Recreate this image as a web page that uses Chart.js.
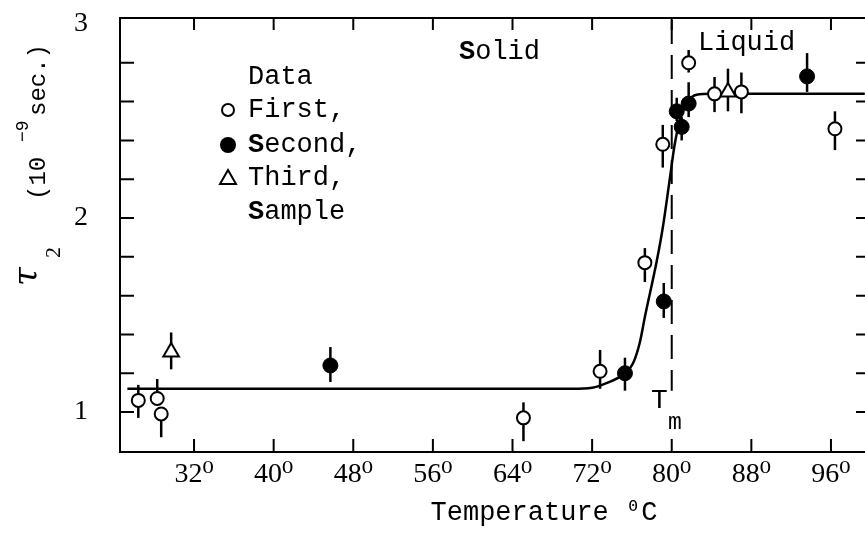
<!DOCTYPE html>
<html><head><meta charset="utf-8">
<script src="https://cdn.jsdelivr.net/npm/chart.js@4"></script>
<style>html,body{margin:0;padding:0;background:#fff;}canvas{display:block;}</style>
</head><body>
<canvas id="c" width="865" height="533"></canvas>
<script>
// ---- axis ticks ----
const xTickValues = [32, 40, 48, 56, 64, 72, 80, 88, 96];
const xTickLabels = ['32⁰', '40⁰', '48⁰', '56⁰', '64⁰', '72⁰', '80⁰', '88⁰', '96⁰'];
const yTickValues = [1, 1.2, 1.4, 1.6, 1.8, 2, 2.2, 2.4, 2.6, 2.8, 3];
const yTickLabels = ['1', '', '', '', '', '2', '', '', '', '', '3'];

// ---- data: First sample (open circles) ----
const firstT  = [26.4, 28.3, 28.7, 65.1, 72.8, 77.3, 79.1, 81.7, 84.3, 87.0, 96.4];
const firstV  = [1.06, 1.07, 0.99, 0.97, 1.21, 1.77, 2.38, 2.80, 2.64, 2.65, 2.46];
const firstUp = [0.08, 0.10, 0.03, 0.08, 0.11, 0.075, 0.10, 0.066, 0.087, 0.10, 0.09];
const firstDn = [0.09, 0.03, 0.12, 0.12, 0.09, 0.10, 0.12, 0.05, 0.094, 0.11, 0.11];

// ---- data: Second sample (filled circles) ----
const secondT  = [45.7, 75.3, 79.2, 80.5, 81.0, 81.7, 93.6];
const secondV  = [1.24, 1.20, 1.57, 2.55, 2.47, 2.59, 2.73];
const secondUp = [0.095, 0.08, 0.095, 0.07, 0.05, 0.11, 0.12];
const secondDn = [0.085, 0.09, 0.085, 0.05, 0.07, 0.07, 0.08];

// ---- data: Third sample (triangles) ----
const thirdT  = [29.7, 85.65];
const thirdV  = [1.31, 2.65];
const thirdUp = [0.10, 0.12];
const thirdDn = [0.09, 0.10];

// ---- fitted curve ----
const curveT = [25.3, 50, 70, 72, 73.5, 75.3, 76.1, 76.8, 77.3, 78.5, 79.1, 79.8, 80.3, 80.9, 81.6, 82.5, 84, 99.4];
const curveV = [1.12, 1.12, 1.12, 1.125, 1.15, 1.20, 1.25, 1.36, 1.49, 1.78, 1.95, 2.20, 2.38, 2.52, 2.60, 2.635, 2.64, 2.64];

const meltT = 80;

const pts = (T, V) => T.map((t, i) => ({x: t, y: V[i]}));
const series = [
  {T: firstT, V: firstV, up: firstUp, dn: firstDn},
  {T: secondT, V: secondV, up: secondUp, dn: secondDn},
  {T: thirdT, V: thirdV, up: thirdUp, dn: thirdDn}
];

const MONO = '"Liberation Mono","DejaVu Sans Mono",monospace';
const SERIF = '"Liberation Serif","DejaVu Serif",serif';

function drawMixed(ctx, x, y, parts) {
  let cx = x;
  parts.forEach(p => {
    ctx.font = p.font;
    ctx.fillText(p.t, cx, y);
    cx += ctx.measureText(p.t).width;
  });
}

const decor = {
  id: 'decor',
  beforeDatasetsDraw(chart) {
    const {ctx, chartArea: a, scales: {x, y}} = chart;
    ctx.save();
    ctx.strokeStyle = '#000';
    ctx.lineWidth = 2;
    ctx.beginPath();
    ctx.moveTo(a.left, a.top); ctx.lineTo(a.right, a.top);
    x.ticks.forEach(t => {
      const p = x.getPixelForValue(t.value);
      ctx.moveTo(p, a.top); ctx.lineTo(p, a.top + 12);
      ctx.moveTo(p, a.bottom); ctx.lineTo(p, a.bottom - 13);
    });
    y.ticks.forEach(t => {
      if (t.value > 2.95) return;
      const p = y.getPixelForValue(t.value);
      ctx.moveTo(a.left, p); ctx.lineTo(a.left + 14, p);
      ctx.moveTo(a.right - 9, p); ctx.lineTo(a.right, p);
    });
    ctx.stroke();
    // Tm dashed line
    const xm = x.getPixelForValue(meltT);
    ctx.setLineDash([24, 11]);
    ctx.beginPath();
    ctx.moveTo(xm, a.top + 2); ctx.lineTo(xm, y.getPixelForValue(1.11));
    ctx.stroke();
    ctx.setLineDash([]);
    // error bars
    ctx.lineWidth = 2.5;
    series.forEach(s => {
      s.T.forEach((t, i) => {
        const px = x.getPixelForValue(t);
        ctx.beginPath();
        ctx.moveTo(px, y.getPixelForValue(s.V[i] + s.up[i]));
        ctx.lineTo(px, y.getPixelForValue(s.V[i] - s.dn[i]));
        ctx.stroke();
      });
    });
    ctx.restore();
  },
  afterDraw(chart) {
    const {ctx} = chart;
    ctx.save();
    ctx.fillStyle = '#000';
    ctx.strokeStyle = '#000';
    ctx.textBaseline = 'middle';
    ctx.textAlign = 'left';
    // region labels
    drawMixed(ctx, 459, 52, [{t: 'S', font: 'bold 27px ' + MONO}, {t: 'olid', font: '27px ' + MONO}]);
    ctx.font = '27px ' + MONO;
    ctx.fillText('Liquid', 698, 43);
    // Tm
    ctx.font = '28px ' + MONO;
    ctx.fillText('T', 651, 401);
    ctx.font = '23px ' + MONO;
    ctx.fillText('m', 668, 423);
    // legend
    ctx.font = '27px ' + MONO;
    ctx.fillText('Data', 248, 77);
    ctx.fillText('First,', 248, 110);
    drawMixed(ctx, 248, 145, [{t: 'S', font: 'bold 27px ' + MONO}, {t: 'econd,', font: '27px ' + MONO}]);
    ctx.font = '27px ' + MONO;
    ctx.fillText('Third,', 248, 178);
    drawMixed(ctx, 248, 212, [{t: 'S', font: 'bold 27px ' + MONO}, {t: 'ample', font: '27px ' + MONO}]);
    ctx.lineWidth = 2;
    ctx.beginPath(); ctx.arc(228, 110, 6, 0, Math.PI * 2); ctx.stroke();
    ctx.beginPath(); ctx.arc(228, 145, 8, 0, Math.PI * 2); ctx.fill();
    ctx.beginPath(); ctx.moveTo(228, 170); ctx.lineTo(236, 184); ctx.lineTo(220, 184); ctx.closePath(); ctx.stroke();
    // x title
    ctx.textAlign = 'center';
    ctx.font = '27px ' + MONO;
    ctx.fillText('Temperature ⁰C', 544, 513);
    // y title (rotated)
    ctx.translate(45, 288);
    ctx.rotate(-Math.PI / 2);
    ctx.textAlign = 'left';
    ctx.textBaseline = 'alphabetic';
    ctx.font = 'italic 34px "DejaVu Serif",serif';
    ctx.fillText('τ', 2, -8);
    ctx.font = '22px ' + SERIF;
    ctx.fillText('2', 30, 15);
    ctx.font = '24px ' + MONO;
    ctx.fillText('(10', 88, 0);
    ctx.font = '18px ' + MONO;
    ctx.fillText('−9', 146, -17);
    ctx.font = '24px ' + MONO;
    ctx.fillText('sec.)', 172, 0);
    ctx.restore();
  }
};

new Chart(document.getElementById('c'), {
  type: 'scatter',
  data: {
    datasets: [
      {type: 'line', label: 'fit', data: pts(curveT, curveV), borderColor: '#000', borderWidth: 2.5,
       pointRadius: 0, cubicInterpolationMode: 'monotone', fill: false, order: 5},
      {label: 'First', data: pts(firstT, firstV), pointStyle: 'circle', pointRadius: 6.5, pointBorderWidth: 2,
       pointBackgroundColor: '#fff', pointBorderColor: '#000', order: 1},
      {label: 'Second', data: pts(secondT, secondV), pointStyle: 'circle', pointRadius: 7.5, pointBorderWidth: 1,
       pointBackgroundColor: '#000', pointBorderColor: '#000', order: 1},
      {label: 'Third', data: pts(thirdT, thirdV), pointStyle: 'triangle', pointRadius: 9, pointBorderWidth: 2,
       pointBackgroundColor: '#fff', pointBorderColor: '#000', order: 1}
    ]
  },
  options: {
    responsive: false, animation: false, events: [],
    layout: {autoPadding: false, padding: {top: 18, left: 0, right: 0, bottom: 0}},
    plugins: {legend: {display: false}, tooltip: {enabled: false}},
    scales: {
      x: {
        type: 'linear', min: 24.56, max: 99.42,
        afterBuildTicks: s => { s.ticks = xTickValues.map(v => ({value: v})); },
        afterFit: s => { s.height = 81; s.paddingLeft = 0; s.paddingRight = 0; },
        grid: {display: false, drawTicks: false},
        border: {display: true, color: '#000', width: 2},
        ticks: {autoSkip: false, maxRotation: 0, padding: 6, color: '#000',
          font: {family: SERIF, size: 28}, callback: (v, i) => xTickLabels[i]}
      },
      y: {
        type: 'linear', min: 0.794, max: 3.031,
        afterBuildTicks: s => { s.ticks = yTickValues.map(v => ({value: v})); },
        afterFit: s => { s.width = 120; s.paddingTop = 0; s.paddingBottom = 0; },
        grid: {display: false, drawTicks: false},
        border: {display: true, color: '#000', width: 2},
        ticks: {autoSkip: false, padding: 32, color: '#000',
          font: {family: SERIF, size: 28}, callback: (v, i) => yTickLabels[i]}
      }
    }
  },
  plugins: [decor]
});
</script>
</body></html>
